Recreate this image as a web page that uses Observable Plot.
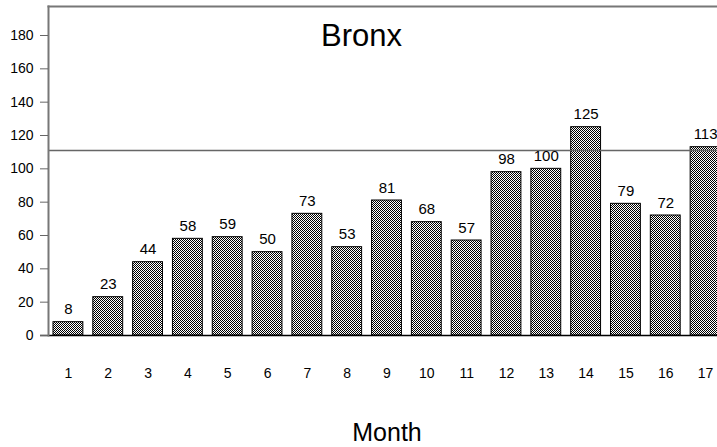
<!DOCTYPE html>
<html>
<head>
<meta charset="utf-8">
<script src="https://cdn.jsdelivr.net/npm/d3@7"></script>
<script src="https://cdn.jsdelivr.net/npm/@observablehq/plot@0.6"></script>
<style>
  html, body { margin: 0; padding: 0; background: #fff; }
  #chart svg { overflow: hidden; display: block; }
</style>
</head>
<body>
<div id="chart"></div>
<script>
const months = ["1","2","3","4","5","6","7","8","9","10","11","12","13","14","15","16","17"];
const counts = [8, 23, 44, 58, 59, 50, 73, 53, 81, 68, 57, 98, 100, 125, 79, 72, 113];
const yTicks = [0, 20, 40, 60, 80, 100, 120, 140, 160, 180];
const referenceLine = [111];
const title = "Bronx";
const xTitle = "Month";

const data = months.map((m, i) => ({month: m, count: counts[i]}));
const sans = "'Liberation Sans', Arial, Helvetica, sans-serif";

const plot = Plot.plot({
  width: 717,
  height: 447,
  marginTop: 6,
  marginBottom: 112,
  marginLeft: 48,
  marginRight: -8,
  style: {background: "#fff", fontFamily: sans, color: "#000"},
  x: {type: "band", domain: months, paddingInner: 0.25, paddingOuter: 0.125, round: false, axis: null},
  y: {domain: [0, 197.4], axis: null},
  marks: [
    Plot.barY(data, {x: "month", y: "count", fill: "url(#checker)", stroke: "#000", strokeWidth: 1}),
    Plot.ruleY(referenceLine, {stroke: "#666", strokeWidth: 1.5}),
    Plot.ruleY([0], {stroke: "#000", strokeWidth: 1.5, insetLeft: -8}),
    Plot.frame({anchor: "left", stroke: "#777", strokeWidth: 2}),
    Plot.frame({anchor: "top", stroke: "#777", strokeWidth: 2}),
    Plot.axisY(yTicks, {tickSize: 8, tickPadding: 7, stroke: "#666", fill: "#000", fontSize: 14, fontFamily: sans, label: null}),
    Plot.axisX(months, {tickSize: 0, tickPadding: 33, fill: "#000", fontSize: 14, fontFamily: sans, label: null}),
    Plot.text(data, {x: "month", y: "count", text: d => String(d.count), lineAnchor: "bottom", dy: -8, fontSize: 15, fontFamily: sans, fill: "#000"}),
    Plot.text([title], {frameAnchor: "top", lineAnchor: "top", dx: -25.5, dy: 17, fontSize: 31, fontFamily: sans, fill: "#000"}),
    Plot.text([xTitle], {frameAnchor: "bottom", lineAnchor: "top", dy: 88, fontSize: 25, fontFamily: sans, fill: "#000"})
  ]
});

const svg = d3.select(plot);
const defs = svg.insert("defs", ":first-child");
const pat = defs.append("pattern")
  .attr("id", "checker")
  .attr("patternUnits", "userSpaceOnUse")
  .attr("width", 2).attr("height", 2);
pat.append("rect").attr("width", 2).attr("height", 2).attr("fill", "#fff");
pat.append("rect").attr("x", 0).attr("y", 0).attr("width", 1).attr("height", 1).attr("fill", "#000");
pat.append("rect").attr("x", 1).attr("y", 1).attr("width", 1).attr("height", 1).attr("fill", "#000");

document.getElementById("chart").appendChild(plot);
</script>
</body>
</html>
